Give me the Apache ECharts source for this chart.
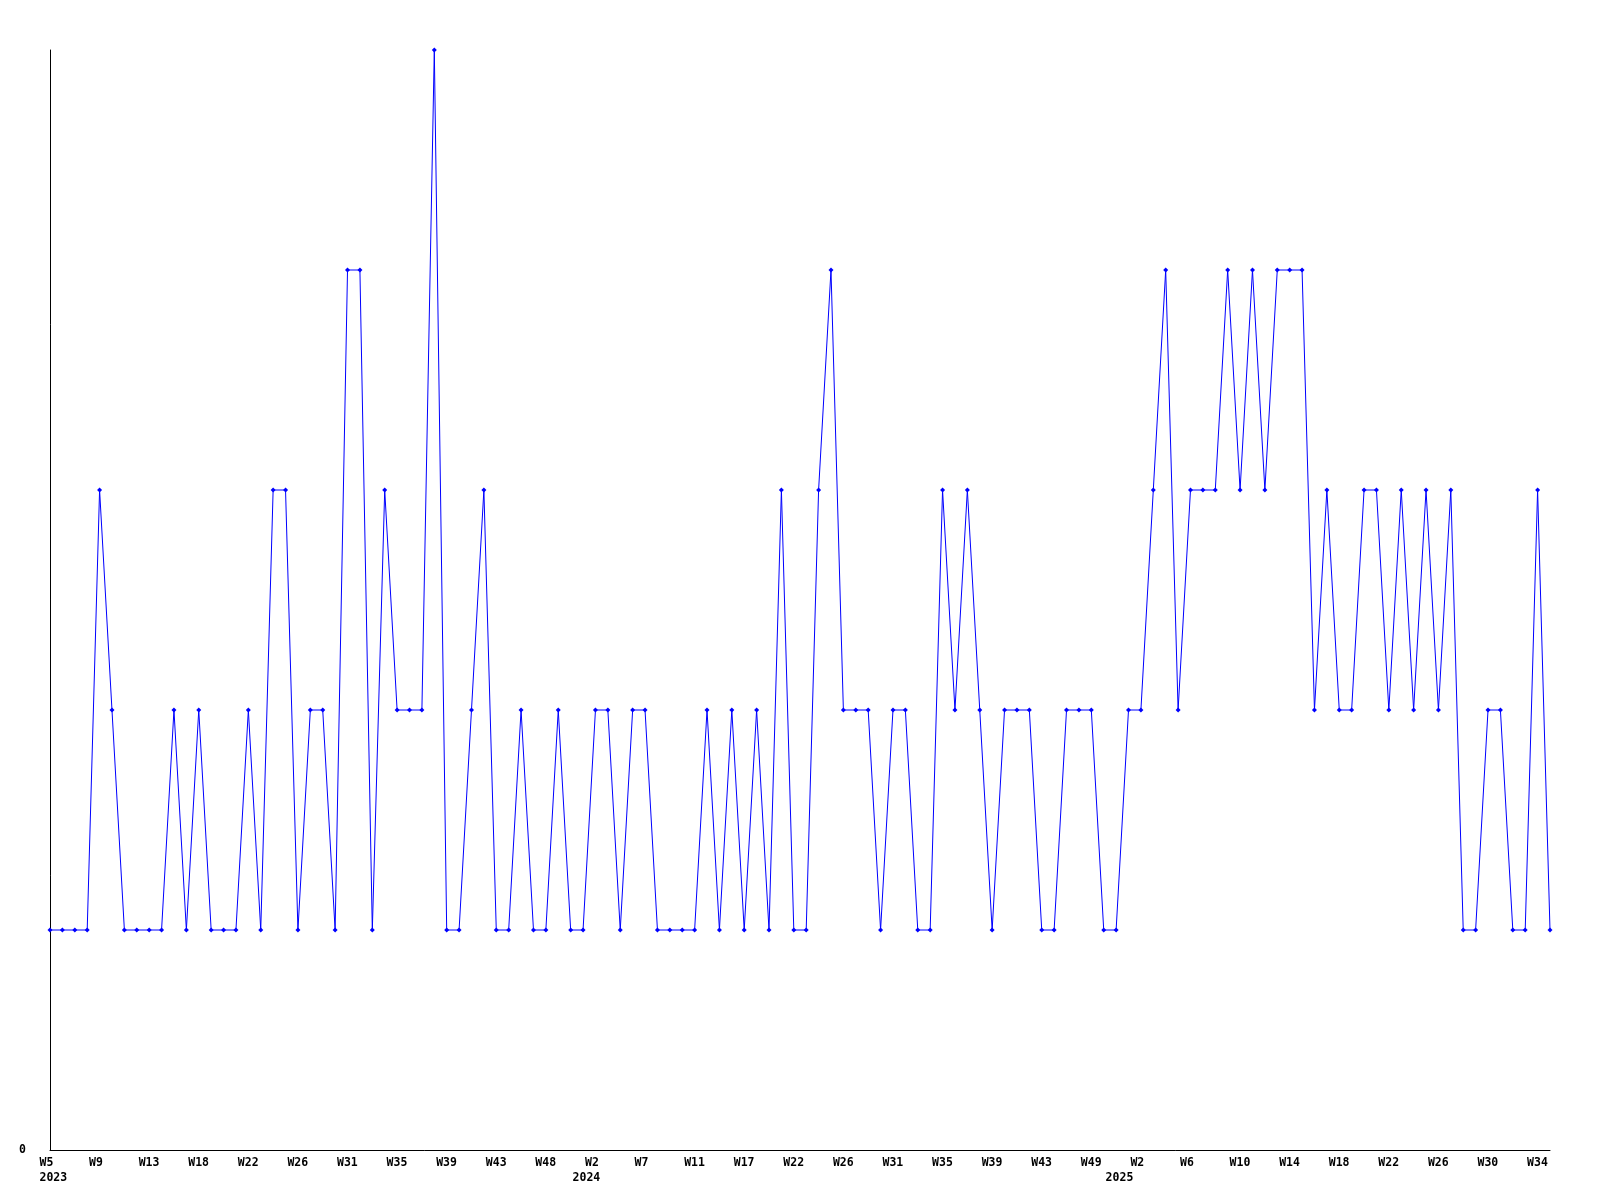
<!DOCTYPE html>
<html>
<head>
<meta charset="utf-8">
<script src="https://cdn.jsdelivr.net/npm/echarts@6/dist/echarts.min.js"></script>
<style>
html,body{margin:0;padding:0;background:#fff;}
#chart{width:1600px;height:1200px;}
</style>
</head>
<body>
<div id="chart"></div>
<script>
// Week categories (year-week) in plotting order
const weeks2023 = ['W5','W6','W7','W8','W9','W10','W11','W12','W13','W14','W15','W16','W18','W19','W20','W21','W22','W23','W24','W25','W26','W27','W28','W29','W31','W32','W33','W34','W35','W36','W37','W38','W39','W40','W41','W42','W43','W44','W45','W46','W48','W49','W50'];
const weeks2024 = ['W1','W2','W3','W4','W5','W7','W8','W9','W10','W11','W12','W14','W15','W17','W18','W19','W20','W22','W23','W24','W25','W26','W27','W28','W30','W31','W32','W33','W34','W35','W36','W37','W38','W39','W40','W41','W42','W43','W45','W46','W48','W49','W50'];
const weeks2025 = ['W0','W1','W2','W3','W4','W5','W6','W7','W8','W9','W10','W11','W12','W13','W14','W15','W16','W17','W18','W19','W20','W21','W22','W23','W24','W25','W26','W27','W28','W29','W30','W31','W32','W33','W34','W35'];

// Values per week
const values2023 = [1,1,1,1,3,2,1,1,1,1, 2,1,2,1,1,1,2,1,3,3, 1,2,2,1,4,4,1,3,2,2, 2,5,1,1,2,3,1,1,2,1, 1,2,1];
const values2024 = [1,2,2,1,2,2,1,1,1,1, 2,1,2,1,2,1,3,1,1,3, 4,2,2,2,1,2,2,1,1,3, 2,3,2,1,2,2,2,1,1,2, 2,2,1];
const values2025 = [1,2,2,3,4,2,3,3,3,4, 3,4,3,4,4,4,2,3,2,2, 3,3,2,3,2,3,2,3,1,1, 2,2,1,1,3,1];

const years = ['2023','2024','2025'];
const yTickLabels = ['0'];
const labelEvery = 4;

const categories = [];
const values = [];
const firstOfYear = {};
[[weeks2023, values2023], [weeks2024, values2024], [weeks2025, values2025]].forEach(function (pair, yi) {
  firstOfYear[categories.length] = years[yi];
  pair[0].forEach(function (w, i) {
    categories.push(years[yi] + '-' + w);
    values.push(pair[1][i]);
  });
});

const FONT = '"DejaVu Sans Mono", "Liberation Mono", monospace';

const chart = echarts.init(document.getElementById('chart'), null, {renderer: 'canvas'});
chart.setOption({
  animation: false,
  backgroundColor: '#ffffff',
  grid: {left: 50, right: 50, top: 50, bottom: 50, containLabel: false},
  xAxis: {
    type: 'category',
    data: categories,
    boundaryGap: false,
    axisLine: {show: true, lineStyle: {color: '#000', width: 1}},
    axisTick: {show: false},
    splitLine: {show: false},
    axisLabel: {
      margin: 6,
      align: 'center',
      interval: function (idx) { return idx % labelEvery === 0 || firstOfYear[idx] !== undefined; },
      formatter: function (val, idx) {
        const wk = val.split('-')[1];
        const top = (idx % labelEvery === 0) ? '{a|' + wk + '}' : '{a| }';
        if (firstOfYear[idx] !== undefined) return top + '\n{a|' + firstOfYear[idx] + '}';
        return top;
      },
      rich: {
        a: {width: 21, align: 'left', fontFamily: FONT, fontSize: 11.5, fontWeight: 'bold', color: '#000', lineHeight: 15}
      }
    }
  },
  yAxis: {
    type: 'value',
    min: 0,
    max: 5,
    interval: 5,
    axisLine: {show: true, lineStyle: {color: '#000', width: 1}},
    axisTick: {show: false},
    splitLine: {show: false},
    axisLabel: {
      margin: 24,
      fontFamily: FONT, fontSize: 11.5, fontWeight: 'bold', color: '#000',
      formatter: function (v) { return yTickLabels.indexOf(String(v)) >= 0 ? String(v) : ''; }
    }
  },
  series: [{
    type: 'line',
    data: values,
    symbol: 'diamond',
    symbolSize: 5,
    showSymbol: true,
    lineStyle: {color: '#0000ff', width: 1},
    itemStyle: {color: '#0000ff'},
    clip: false
  }]
});
</script>
</body>
</html>
